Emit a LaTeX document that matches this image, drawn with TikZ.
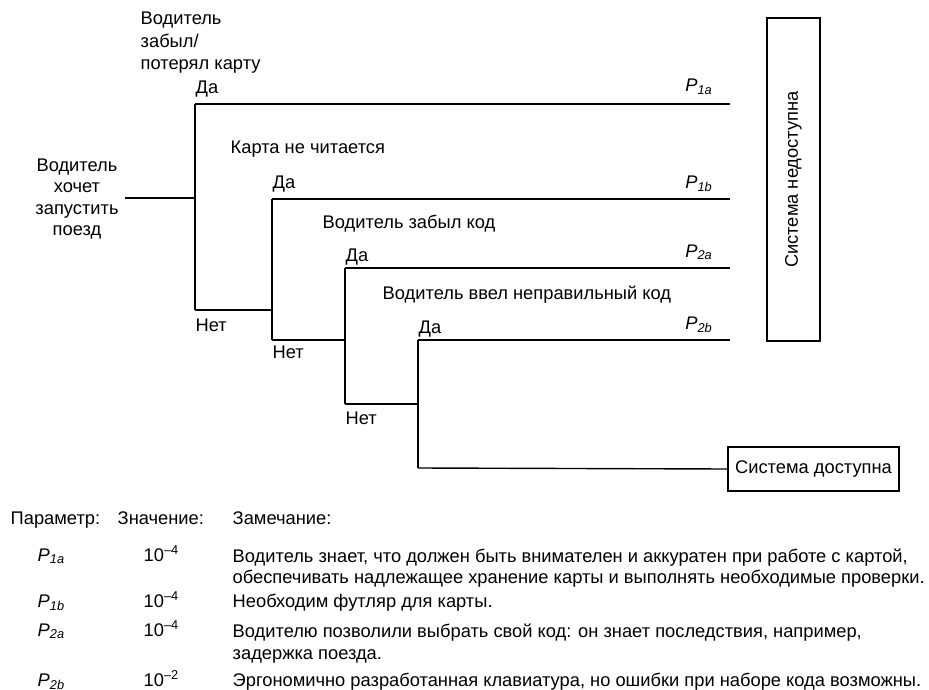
\documentclass[tikz,border=0pt]{standalone}
\usepackage{fontspec}
\setmainfont{Liberation Sans}
\begin{document}
\begin{tikzpicture}[x=1pt,y=-1pt,line width=1.4pt,
  lbl/.style={inner sep=0pt,font=\fontsize{18.3}{21.5}\selectfont},
  bl/.style={lbl,anchor=base west},
  ml/.style={lbl,align=left,anchor=north west},
  plbl/.style={lbl,font=\fontsize{18.3}{21.5}\selectfont\itshape},
  outbox/.style={draw,line width=1.3pt,inner sep=0pt,font=\fontsize{18.3}{21.5}\selectfont}]
\useasboundingbox (0,0) rectangle (929,690);
% root
\node[lbl,align=center] (root) at (77,199) {Водитель\\хочет\\запустить\\поезд};
\coordinate (r0) at (125,198);
\coordinate (j1) at (195,198);
\draw (r0) -- (j1);
% level 1
\coordinate (y1) at (195,104);
\coordinate (n1) at (195,310);
\coordinate (e1) at (730,104);
\draw (y1) -- (n1);
\draw (y1) -- (e1);
% level 2
\coordinate (y2) at (272,199);
\coordinate (n2) at (272,340);
\coordinate (j2) at (272,310);
\coordinate (e2) at (730,199);
\draw (n1) -- (j2);
\draw (y2) -- (n2);
\draw (y2) -- (e2);
% level 3
\coordinate (y3) at (345,268);
\coordinate (n3) at (345,404);
\coordinate (j3) at (345,340);
\coordinate (e3) at (730,268);
\draw (n2) -- (j3);
\draw (y3) -- (n3);
\draw (y3) -- (e3);
% level 4
\coordinate (y4) at (418,340);
\coordinate (n4) at (418,468);
\coordinate (j4) at (418,404);
\coordinate (e4) at (730,340);
\draw (n3) -- (j4);
\draw (y4) -- (n4);
\draw (y4) -- (e4);
% outcome boxes
\node[outbox,minimum width=171pt,minimum height=44pt] (ok) at (813.5,469) {Система доступна};
\draw (n4) -- (ok.west);
\node[outbox,rotate=90,minimum width=323pt,minimum height=53pt] (fail) at (793.5,179.5) {Система недоступна};
% question labels
\node[ml,font=\fontsize{18.3}{22.5}\selectfont] (q1) at (140,11.5) {Водитель\\забыл/\\потерял карту};
\node[bl] (q2) at (230,153.5) {Карта не читается};
\node[bl] (q3) at (322,228.5) {Водитель забыл код};
\node[bl] (q4) at (382,299.5) {Водитель ввел неправильный код};
% yes / no labels
\node[bl] (da1) at (195,93.5) {Да};
\node[bl] (da2) at (272,188.5) {Да};
\node[bl] (da3) at (345,261.5) {Да};
\node[bl] (da4) at (418,333.5) {Да};
\node[bl] (net1) at (195,331.5) {Нет};
\node[bl] (net2) at (272,358.5) {Нет};
\node[bl] (net3) at (345,424.5) {Нет};
% probabilities
\node[plbl,anchor=base east] (p1a) at (713,92) {P\textsubscript{1a}};
\node[plbl,anchor=base east] (p1b) at (713,188) {P\textsubscript{1b}};
\node[plbl,anchor=base east] (p2a) at (713,257) {P\textsubscript{2a}};
\node[plbl,anchor=base east] (p2b) at (713,329) {P\textsubscript{2b}};
% table
\node[bl] (h1) at (10,524.5) {Параметр:};
\node[bl] (h2) at (117,524.5) {Значение:};
\node[bl] (h3) at (232,524.5) {Замечание:};
\node[plbl,anchor=base west] (t1p) at (37,561) {P\textsubscript{1a}};
\node[plbl,anchor=base west] (t2p) at (37,607) {P\textsubscript{1b}};
\node[plbl,anchor=base west] (t3p) at (37,636) {P\textsubscript{2a}};
\node[plbl,anchor=base west] (t4p) at (37,686) {P\textsubscript{2b}};
\node[bl] (t1v) at (143,561) {10\textsuperscript{–4}};
\node[bl] (t2v) at (143,607) {10\textsuperscript{–4}};
\node[bl] (t3v) at (143,636) {10\textsuperscript{–4}};
\node[bl] (t4v) at (143,686) {10\textsuperscript{–2}};
\node[ml,font=\fontsize{18.3}{20.5}\selectfont] (t1d) at (232,548.5) {Водитель знает, что должен быть внимателен и аккуратен при работе с картой,\\обеспечивать надлежащее хранение карты и выполнять необходимые проверки.};
\node[bl] (t2d) at (232,607.5) {Необходим футляр для карты.};
\node[ml,font=\fontsize{18.3}{21.5}\selectfont] (t3d) at (232,623.5) {Водителю позволили выбрать свой код: он знает последствия, например,\\задержка поезда.};
\node[bl] (t4d) at (232,686) {Эргономично разработанная клавиатура, но ошибки при наборе кода возможны.};
\end{tikzpicture}
\end{document}
